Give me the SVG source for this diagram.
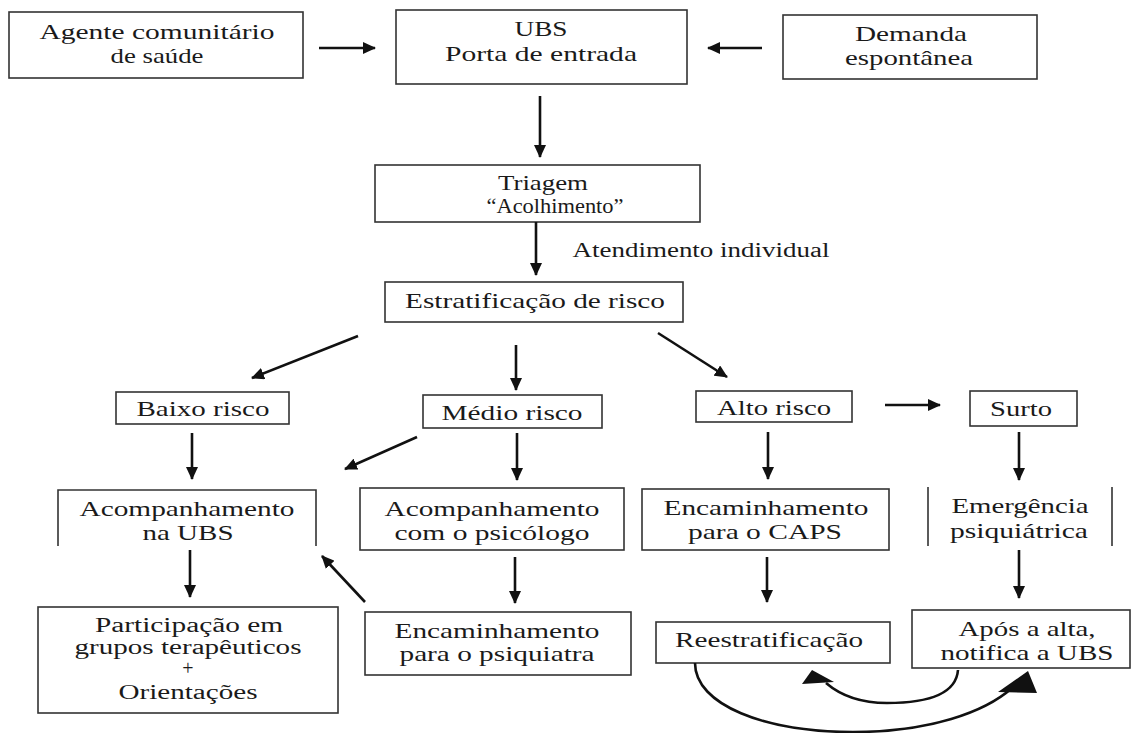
<svg xmlns="http://www.w3.org/2000/svg" width="1132" height="733" viewBox="0 0 1132 733">
<defs>
<style>
.box{fill:#fff;stroke:#333;stroke-width:1.6}
.ln{fill:none;stroke:#333;stroke-width:1.6}
.t{font-size:22px;fill:#1a1a1a;text-anchor:middle}
.s{font-size:20px}
.c{fill:none;stroke:#111;stroke-width:2.6}
.hd{fill:#111}
</style>
<marker id="ah" markerUnits="userSpaceOnUse" markerWidth="14" markerHeight="12" refX="12" refY="6" orient="auto">
<path d="M0,0 L13,6 L0,12 z" fill="#111"/>
</marker>
</defs>
<rect width="1132" height="733" fill="#fff"/>
<g font-family="Times New Roman, Times, Tinos, Liberation Serif, Noto Serif, serif">
<g id="agente">
<rect class="box" x="9" y="12" width="294" height="66"/>
<text class="t" x="157" y="39" textLength="235" lengthAdjust="spacingAndGlyphs">Agente comunitário</text>
<text class="t" x="157" y="63" textLength="93" lengthAdjust="spacingAndGlyphs">de saúde</text>
</g>
<g id="ubs">
<rect class="box" x="396" y="10" width="291" height="74"/>
<text class="t" x="541" y="36" textLength="53" lengthAdjust="spacingAndGlyphs">UBS</text>
<text class="t" x="541" y="61" textLength="192" lengthAdjust="spacingAndGlyphs">Porta de entrada</text>
</g>
<g id="demanda">
<rect class="box" x="783" y="15" width="254" height="64"/>
<text class="t" x="911" y="41" textLength="112" lengthAdjust="spacingAndGlyphs">Demanda</text>
<text class="t" x="909" y="65" textLength="128" lengthAdjust="spacingAndGlyphs">espontânea</text>
</g>
<g id="triagem">
<rect class="box" x="375" y="165" width="325" height="57"/>
<text class="t" x="543" y="190" textLength="90" lengthAdjust="spacingAndGlyphs">Triagem</text>
<text class="t" x="555" y="213" textLength="137" lengthAdjust="spacingAndGlyphs">“Acolhimento”</text>
</g>
<g id="atendimento">
<text class="t s" x="701" y="257" textLength="257" lengthAdjust="spacingAndGlyphs">Atendimento individual</text>
</g>
<g id="estratificacao">
<rect class="box" x="385" y="282" width="298" height="40"/>
<text class="t" x="535" y="308" textLength="260" lengthAdjust="spacingAndGlyphs">Estratificação de risco</text>
</g>
<g id="baixo">
<rect class="box" x="116" y="392" width="173" height="32"/>
<text class="t" x="203" y="416" textLength="133" lengthAdjust="spacingAndGlyphs">Baixo risco</text>
</g>
<g id="medio">
<rect class="box" x="423" y="395" width="179" height="33"/>
<text class="t" x="512" y="420" textLength="141" lengthAdjust="spacingAndGlyphs">Médio risco</text>
</g>
<g id="alto">
<rect class="box" x="696" y="391" width="156" height="31"/>
<text class="t" x="774" y="415" textLength="114" lengthAdjust="spacingAndGlyphs">Alto risco</text>
</g>
<g id="surto">
<rect class="box" x="970" y="391" width="107" height="35"/>
<text class="t" x="1021" y="416" textLength="62" lengthAdjust="spacingAndGlyphs">Surto</text>
</g>
<g id="acomp-ubs">
<path class="ln" d="M58,546 V490 H316 V546"/>
<text class="t" x="187" y="516" textLength="215" lengthAdjust="spacingAndGlyphs">Acompanhamento</text>
<text class="t" x="188" y="540" textLength="91" lengthAdjust="spacingAndGlyphs">na UBS</text>
</g>
<g id="acomp-psicologo">
<rect class="box" x="360" y="488" width="264" height="62"/>
<text class="t" x="492" y="516" textLength="215" lengthAdjust="spacingAndGlyphs">Acompanhamento</text>
<text class="t" x="492" y="540" textLength="195" lengthAdjust="spacingAndGlyphs">com o psicólogo</text>
</g>
<g id="caps">
<rect class="box" x="642" y="489" width="247" height="61"/>
<text class="t" x="766" y="515" textLength="205" lengthAdjust="spacingAndGlyphs">Encaminhamento</text>
<text class="t" x="765" y="539" textLength="154" lengthAdjust="spacingAndGlyphs">para o CAPS</text>
</g>
<g id="emergencia">
<path class="ln" d="M928,487 V546 M1112,487 V546"/>
<text class="t" x="1020" y="513" textLength="137" lengthAdjust="spacingAndGlyphs">Emergência</text>
<text class="t" x="1019" y="538" textLength="138" lengthAdjust="spacingAndGlyphs">psiquiátrica</text>
</g>
<g id="participacao">
<rect class="box" x="38" y="607" width="300" height="106"/>
<text class="t s" x="189" y="632" textLength="188" lengthAdjust="spacingAndGlyphs">Participação em</text>
<text class="t s" x="188" y="654" textLength="227" lengthAdjust="spacingAndGlyphs">grupos terapêuticos</text>
<text class="t s" x="188" y="675">+</text>
<text class="t s" x="188" y="699" textLength="139" lengthAdjust="spacingAndGlyphs">Orientações</text>
</g>
<g id="psiquiatra">
<rect class="box" x="365" y="612" width="266" height="63"/>
<text class="t" x="497" y="638" textLength="205" lengthAdjust="spacingAndGlyphs">Encaminhamento</text>
<text class="t" x="497" y="661" textLength="195" lengthAdjust="spacingAndGlyphs">para o psiquiatra</text>
</g>
<g id="reestratificacao">
<rect class="box" x="656" y="622" width="234" height="41"/>
<text class="t" x="769" y="647" textLength="188" lengthAdjust="spacingAndGlyphs">Reestratificação</text>
</g>
<g id="apos">
<rect class="box" x="912" y="610" width="218" height="58"/>
<text class="t" x="1027" y="636" textLength="137" lengthAdjust="spacingAndGlyphs">Após a alta,</text>
<text class="t" x="1027" y="660" textLength="173" lengthAdjust="spacingAndGlyphs">notifica a UBS</text>
</g>
</g>
<g id="connectors">
<line class="c" x1="319" y1="48" x2="375" y2="48" marker-end="url(#ah)"/>
<line class="c" x1="762" y1="48" x2="708" y2="48" marker-end="url(#ah)"/>
<line class="c" x1="540" y1="96" x2="540" y2="157" marker-end="url(#ah)"/>
<line class="c" x1="536" y1="222" x2="536" y2="275" marker-end="url(#ah)"/>
<line class="c" x1="358" y1="336" x2="252" y2="378" marker-end="url(#ah)"/>
<line class="c" x1="516" y1="345" x2="516" y2="390" marker-end="url(#ah)"/>
<line class="c" x1="658" y1="333" x2="727" y2="377" marker-end="url(#ah)"/>
<line class="c" x1="192" y1="433" x2="192" y2="479" marker-end="url(#ah)"/>
<line class="c" x1="517" y1="433" x2="517" y2="480" marker-end="url(#ah)"/>
<line class="c" x1="417" y1="437" x2="345" y2="469" marker-end="url(#ah)"/>
<line class="c" x1="885" y1="405" x2="940" y2="405" marker-end="url(#ah)"/>
<line class="c" x1="768" y1="432" x2="768" y2="479" marker-end="url(#ah)"/>
<line class="c" x1="1019" y1="432" x2="1019" y2="480" marker-end="url(#ah)"/>
<line class="c" x1="190" y1="550" x2="190" y2="597" marker-end="url(#ah)"/>
<line class="c" x1="515" y1="557" x2="515" y2="603" marker-end="url(#ah)"/>
<line class="c" x1="365" y1="602" x2="322" y2="556" marker-end="url(#ah)"/>
<line class="c" x1="767" y1="557" x2="767" y2="602" marker-end="url(#ah)"/>
<line class="c" x1="1019" y1="550" x2="1019" y2="598" marker-end="url(#ah)"/>
<path class="c" d="M695,663 C695,705 765,732 853,732 C930,732 985,712 1012,688"/>
<polygon class="hd" points="1028,671 998,692 1037,693"/>
<path class="c" d="M958,670 C956,695 925,703 887,703 C860,703 840,695 826,683"/>
<polygon class="hd" points="812,670 802,684 834,682"/>
</g>
</svg>
